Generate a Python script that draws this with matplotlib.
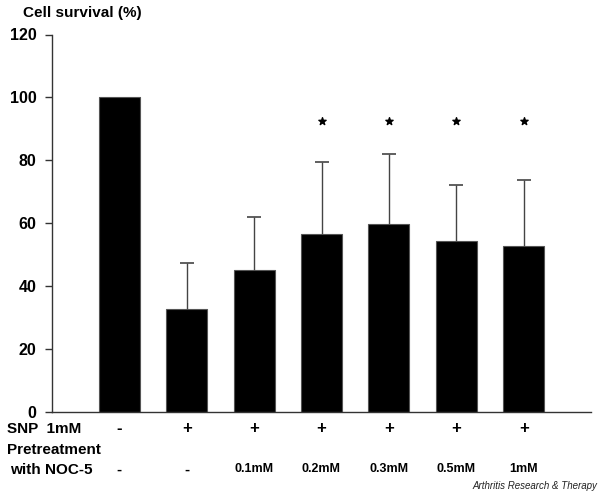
import matplotlib
matplotlib.use("Agg")
import matplotlib.pyplot as plt
from matplotlib.transforms import blended_transform_factory

# ---- data ----
snp = ["-", "+", "+", "+", "+", "+", "+"]
noc5 = ["-", "-", "0.1mM", "0.2mM", "0.3mM", "0.5mM", "1mM"]
survival = [100, 32.7, 45.2, 56.5, 59.6, 54.2, 52.8]
err_upper = [0, 14.7, 16.6, 22.8, 22.5, 17.9, 20.9]
significant = [False, False, False, True, True, True, True]
yticks = [0, 20, 40, 60, 80, 100, 120]

plt.rcParams['font.family'] = ['Liberation Sans', 'DejaVu Sans']

W, H = 600, 492
fig = plt.figure(figsize=(6.0, 4.92), dpi=100)
left, right = 52 / W, 591 / W
bottom, top = (H - 411.7) / H, (H - 34.5) / H
ax = fig.add_axes([left, bottom, right - left, top - bottom])

x = list(range(len(survival)))
ax.bar(x, survival, width=0.61, color='black', edgecolor='#555555', linewidth=0.8, zorder=2)
eb = ax.errorbar(x[1:], survival[1:], yerr=[[0] * (len(x) - 1), err_upper[1:]],
                 fmt='none', ecolor='#444444', elinewidth=1.0, capsize=5, capthick=1.2, zorder=3)
eb[1][0].set_visible(False)

sx = [xi for xi, s in zip(x, significant) if s]
ax.scatter(sx, [92.5] * len(sx), marker='*', s=30, color='black', zorder=4)

ax.set_xlim(-1.0, 7.0)
ax.set_ylim(0, 120)
ax.set_yticks(yticks)
ax.set_yticklabels([str(t) for t in yticks], fontsize=11.5, fontweight='bold')
ax.tick_params(axis='y', direction='out', length=5, width=1, color='#333333', pad=6)
ax.set_xticks([])
for s in ['top', 'right']:
    ax.spines[s].set_visible(False)
ax.spines['left'].set_color('#333333')
ax.spines['bottom'].set_color('#333333')
ax.spines['left'].set_linewidth(1)
ax.spines['bottom'].set_linewidth(1)
ax.spines['bottom'].set_zorder(5)

trans = blended_transform_factory(ax.transData, ax.transAxes)
axh = 411.7 - 34.5
y_snp = -(429 - 411.7) / axh
y_noc = -(469.5 - 411.7) / axh
for xi, s, n in zip(x, snp, noc5):
    ax.text(xi, y_snp, s, transform=trans, ha='center', va='center',
            fontsize=12, fontweight='bold', clip_on=False)
    ax.text(xi, y_noc, n, transform=trans, ha='center', va='center',
            fontsize=9 if n != "-" else 11, fontweight='bold', clip_on=False)

fig.text(7 / W, 1 - 429 / H, "SNP  1mM", ha='left', va='center', fontsize=11, fontweight='bold')
fig.text(7 / W, 1 - 450 / H, "Pretreatment", ha='left', va='center', fontsize=11, fontweight='bold')
fig.text(10 / W, 1 - 469.5 / H, "with NOC-5", ha='left', va='center', fontsize=11, fontweight='bold')
fig.text(23 / W, 1 - 13 / H, "Cell survival (%)", ha='left', va='center', fontsize=11, fontweight='bold')
fig.text(597 / W, 1 - 486 / H, "Arthritis Research & Therapy", ha='right', va='center',
         fontsize=7, fontstyle='italic', color='#222222')

fig.savefig("out.png", dpi=100)
